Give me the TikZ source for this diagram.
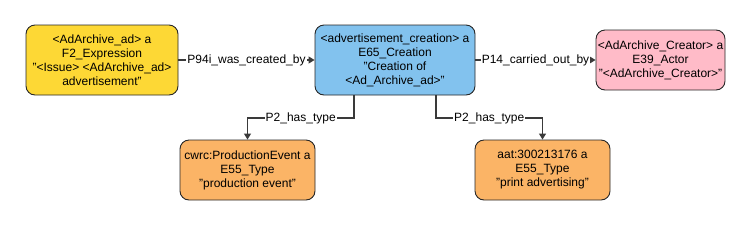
\documentclass[tikz,border=0pt]{standalone}
\usepackage{fontspec}
\setmainfont{Liberation Sans}
\usetikzlibrary{arrows.meta}
\definecolor{cyel}{HTML}{FDD835}
\definecolor{cblue}{HTML}{82C2EE}
\definecolor{cpink}{HTML}{FFBBC8}
\definecolor{corange}{HTML}{FBB466}
\definecolor{cline}{HTML}{3A3A3A}
\begin{document}
\begin{tikzpicture}[x=1pt,y=-1pt,
  box/.style={draw=black!85, line width=0.9pt, rounded corners=9pt, align=center, inner sep=0pt, font=\fontsize{12}{14}\selectfont},
  conn/.style={draw=cline, line width=1.2pt, -{Triangle[length=6pt,width=7pt]}},
  lbl/.style={fill=white, inner sep=1pt, font=\fontsize{12}{14}\selectfont}]
\useasboundingbox (0,0) rectangle (751,226);
\node[box, fill=cyel, minimum width=152pt, minimum height=70pt] (expr) at (102,60)
  {<AdArchive\_ad> a\\F2\_Expression\\"<Issue> <AdArchive\_ad>\\advertisement"};
\node[box, fill=cblue, minimum width=160pt, minimum height=70pt] (crea) at (395,60)
  {<advertisement\_creation> a\\E65\_Creation\\"Creation of\\<Ad\_Archive\_ad>"};
\node[box, fill=cpink, minimum width=129pt, minimum height=60pt] (actor) at (660.5,60)
  {<AdArchive\_Creator> a\\E39\_Actor\\"<AdArchive\_Creator>"};
\node[box, fill=corange, minimum width=135pt, minimum height=60pt] (prod) at (247.5,170)
  {cwrc:ProductionEvent a\\E55\_Type\\"production event"};
\node[box, fill=corange, minimum width=135pt, minimum height=60pt] (print) at (542.5,170)
  {aat:300213176 a\\E55\_Type\\"print advertising"};
\draw[conn] (expr) -- node[lbl]{P94i\_was\_created\_by} (crea);
\draw[conn] (crea) -- node[lbl]{P14\_carried\_out\_by} (actor);
\coordinate (c1) at (354,95);
\coordinate (c2) at (436,95);
\draw[conn] (c1) |- (247.5,118) node[lbl, pos=0.75]{P2\_has\_type} -- (prod);
\draw[conn] (c2) |- (542.5,118) node[lbl, pos=0.75]{P2\_has\_type} -- (print);
\end{tikzpicture}
\end{document}
